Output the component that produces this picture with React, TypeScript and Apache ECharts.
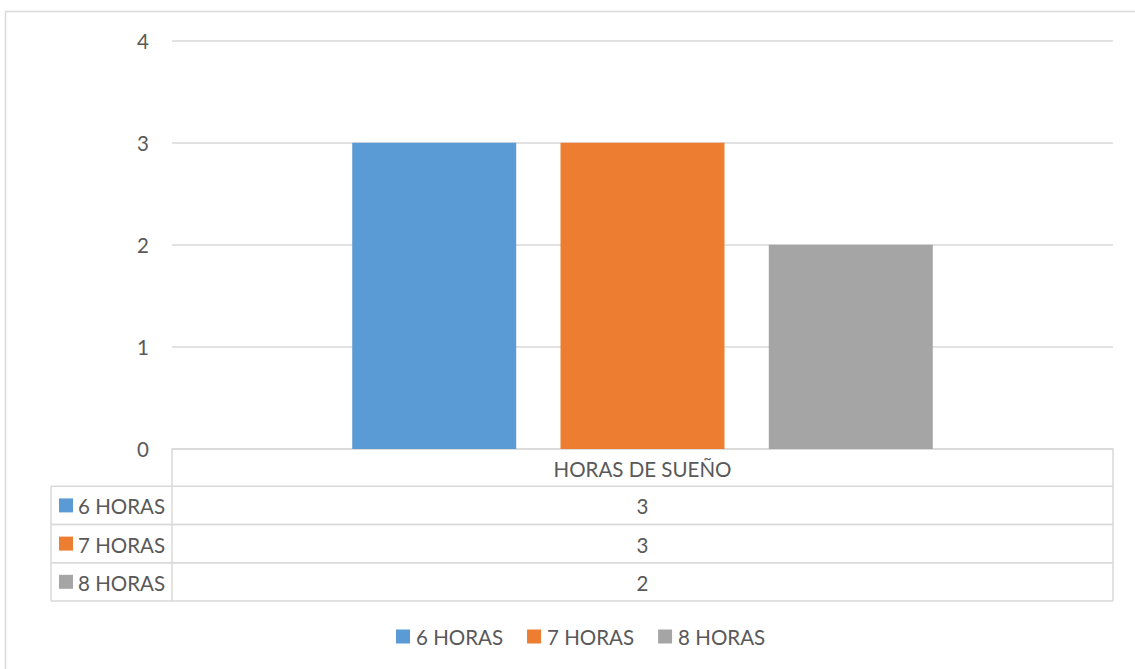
import React, { useEffect, useRef } from "react";
import * as echarts from "echarts";

const categories = ["HORAS DE SUEÑO"];
const seriesNames = ["6 HORAS", "7 HORAS", "8 HORAS"];
const seriesValues = [[3], [3], [2]];
const seriesColors = ["#5B9BD5", "#ED7D31", "#A5A5A5"];
const yTicks = [0, 1, 2, 3, 4];

const W = 1135;
const H = 669;
const FONT = "Lato, 'Noto Sans', sans-serif";
const FS = 20.5;
const TEXT = "#595959";
const LINE = "#D9D9D9";

export default function App() {
  const ref = useRef<HTMLDivElement>(null);
  useEffect(() => {
    if (!ref.current) return;
    const chart = echarts.init(ref.current, undefined, { renderer: "svg", width: W, height: H });
    const gridLeft = 172;
    const gridRight = 1113;
    const gridTop = 40.7;
    const gridBottom = 449;
    const rowH = 38.2;
    const tableLeft = 51;
    const headerBottom = 486.3;

    const graphics: any[] = [];
    graphics.push({
      type: "rect",
      shape: { x: 5.5, y: 11.5, width: 1400, height: 900 },
      style: { fill: "none", stroke: LINE, lineWidth: 1.5 },
      silent: true,
    });
    const rowsBottom = headerBottom + rowH * seriesNames.length;
    graphics.push({
      type: "line",
      shape: { x1: gridLeft, y1: gridBottom, x2: gridLeft, y2: rowsBottom },
      style: { stroke: LINE, lineWidth: 1.5 },
    });
    graphics.push({
      type: "line",
      shape: { x1: gridRight, y1: gridBottom, x2: gridRight, y2: rowsBottom },
      style: { stroke: LINE, lineWidth: 1.5 },
    });
    graphics.push({
      type: "line",
      shape: { x1: tableLeft, y1: headerBottom, x2: tableLeft, y2: rowsBottom },
      style: { stroke: LINE, lineWidth: 1.5 },
    });
    graphics.push({
      type: "text",
      x: (gridLeft + gridRight) / 2,
      y: (gridBottom + headerBottom) / 2 + 1,
      style: { text: categories[0], fill: TEXT, font: `${FS}px ${FONT}`, align: "center", verticalAlign: "middle" },
    });
    seriesNames.forEach((name, i) => {
      const top = headerBottom + rowH * i;
      const bottom = top + rowH;
      graphics.push({
        type: "line",
        shape: { x1: tableLeft, y1: top, x2: gridRight, y2: top },
        style: { stroke: LINE, lineWidth: 1.5 },
      });
      graphics.push({
        type: "line",
        shape: { x1: tableLeft, y1: bottom, x2: gridRight, y2: bottom },
        style: { stroke: LINE, lineWidth: 1.5 },
      });
      const cy = (top + bottom) / 2;
      graphics.push({
        type: "rect",
        shape: { x: 59, y: cy - 7, width: 14, height: 14 },
        style: { fill: seriesColors[i] },
      });
      graphics.push({
        type: "text",
        x: 78,
        y: cy + 1,
        style: { text: name, fill: TEXT, font: `${FS}px ${FONT}`, align: "left", verticalAlign: "middle" },
      });
      graphics.push({
        type: "text",
        x: (gridLeft + gridRight) / 2,
        y: cy + 1,
        style: { text: String(seriesValues[i][0]), fill: TEXT, font: `${FS}px ${FONT}`, align: "center", verticalAlign: "middle" },
      });
    });

    chart.setOption({
      animation: false,
      backgroundColor: "#FFFFFF",
      grid: { left: gridLeft, right: W - gridRight, top: gridTop, bottom: H - gridBottom, containLabel: false },
      xAxis: {
        type: "category",
        data: categories,
        axisLine: { show: true, lineStyle: { color: LINE, width: 1.5 } },
        axisTick: { show: false },
        axisLabel: { show: false },
      },
      yAxis: {
        type: "value",
        min: yTicks[0],
        max: yTicks[yTicks.length - 1],
        interval: 1,
        axisLine: { show: false },
        axisTick: { show: false },
        axisLabel: { color: TEXT, fontFamily: FONT, fontSize: FS, margin: 23 },
        splitLine: { lineStyle: { color: LINE, width: 1.5 } },
      },
      legend: {
        data: seriesNames,
        bottom: 17,
        left: 391,
        icon: "rect",
        itemWidth: 14,
        itemHeight: 14,
        itemGap: 24,
        textStyle: { color: TEXT, fontFamily: FONT, fontSize: FS, padding: [0, 0, 0, 1] },
      },
      series: seriesNames.map((name, i) => ({
        name,
        type: "bar",
        data: seriesValues[i],
        barWidth: 164,
        barGap: "27%",
        itemStyle: { color: seriesColors[i] },
      })),
      graphic: graphics,
    });
    return () => chart.dispose();
  }, []);
  return <div ref={ref} style={{ position: "fixed", left: 0, top: 0, width: W, height: H }} />;
}
